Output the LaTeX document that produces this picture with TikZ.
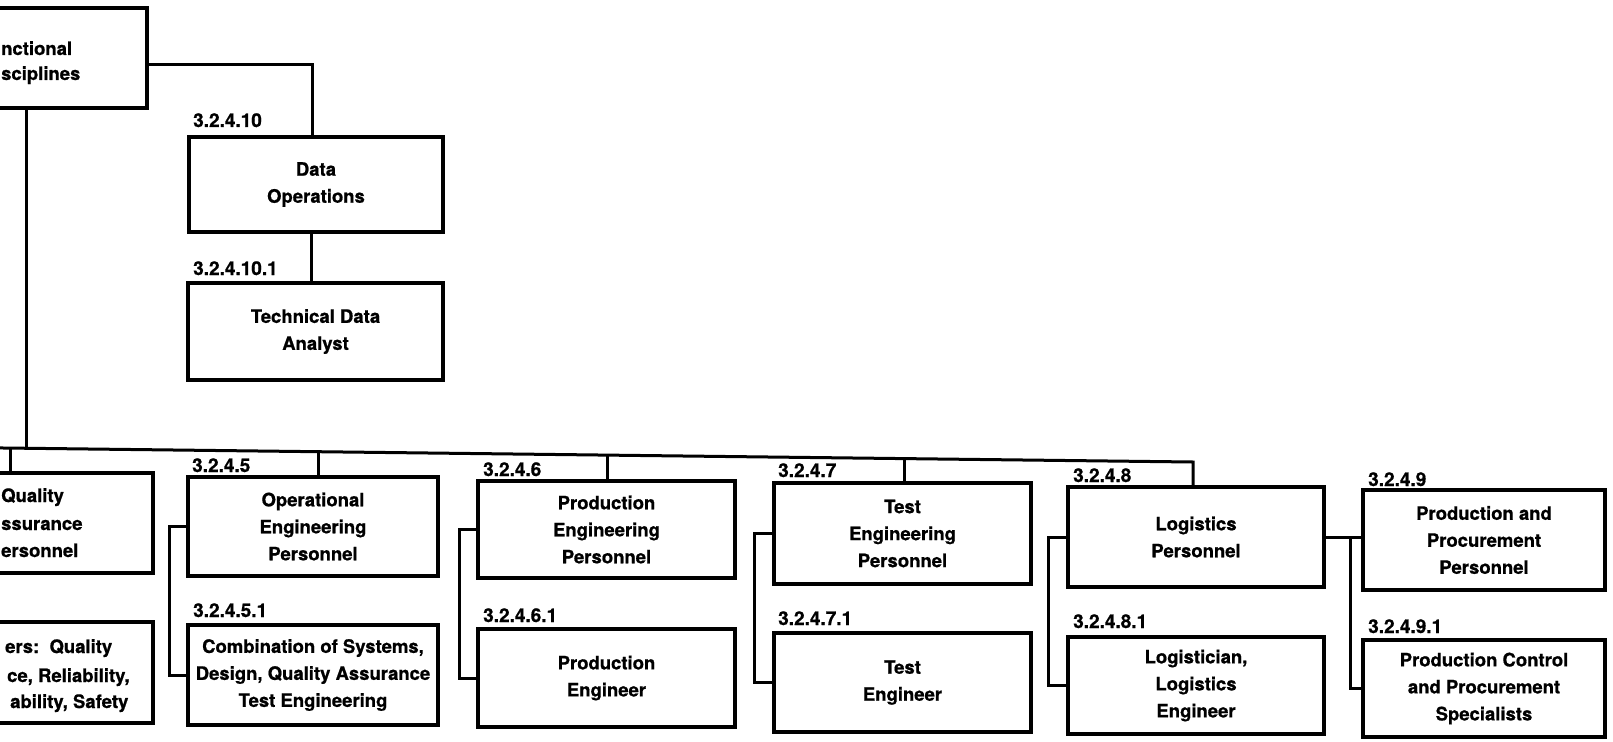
\documentclass[tikz,border=0pt]{standalone}
\usepackage{fontspec}
\setmainfont{TeX Gyre Heros}[BoldFeatures={FakeBold=0.8}]
\usetikzlibrary{calc}
\newcommand\chartfont{\fontsize{18.5}{27}\selectfont\bfseries}
\newcommand\codefont{\fontsize{19}{22}\selectfont\bfseries}
\begin{document}
\begin{tikzpicture}[x=1pt,y=-1pt,
  box/.style={draw, line width=3.6pt, inner sep=0pt, align=center, font=\chartfont},
  conn/.style={line width=3pt},
  code/.style={font=\codefont, inner sep=0pt, anchor=base west},
  frag/.style={font=\chartfont, inner sep=0pt, anchor=base west}]
\useasboundingbox (0,0) rectangle (1613,741);
\fill[white] (0,0) rectangle (1613,741);
\clip (0,0) rectangle (1613,741);

% top box (cut at left edge)
\node[box, minimum width=242pt, minimum height=100pt] (top) at (26,58) {};
\node[frag] (topa) at (1,55) {nctional};
\node[frag] (topb) at (1,80) {sciplines};

% data operations
\node[box, minimum width=254pt, minimum height=95pt] (data) at (316,184.5) {Data\\Operations};
\node[code] (c10) at (193,127) {3.2.4.10};
\node[box, minimum width=255pt, minimum height=97pt] (tech) at (315.5,331.5) {Technical Data\\Analyst};
\node[code] (c101) at (193,275) {3.2.4.10.1};

% quality assurance (cut at left edge)
\node[box, minimum width=248pt, minimum height=100pt] (qa) at (29,523) {};
\node[frag] (qaa) at (1,502) {Quality};
\node[frag] (qab) at (1,530) {ssurance};
\node[frag] (qac) at (1,557) {ersonnel};
\node[box, minimum width=248pt, minimum height=101pt] (qa1) at (29,672.5) {};
\node[frag] (qa1a) at (5,653) {ers:\ \ Quality};
\node[frag] (qa1b) at (7,682) {ce, Reliability,};
\node[frag] (qa1c) at (10,708) {ability, Safety};

% operational engineering
\node[box, minimum width=250pt, minimum height=99pt] (op) at (313,526.5) {Operational\\Engineering\\Personnel};
\node[code] (c5) at (192,472) {3.2.4.5};
\node[box, minimum width=250pt, minimum height=100pt] (op1) at (313,675) {Combination of Systems,\\Design, Quality Assurance\\Test Engineering};
\node[code] (c51) at (193,617) {3.2.4.5.1};

% production engineering
\node[box, minimum width=257pt, minimum height=97pt] (pe) at (606.5,529.5) {Production\\Engineering\\Personnel};
\node[code] (c6) at (483,476) {3.2.4.6};
\node[box, minimum width=257pt, minimum height=98pt] (pe1) at (606.5,678) {Production\\Engineer};
\node[code] (c61) at (483,622) {3.2.4.6.1};

% test engineering
\node[box, minimum width=257pt, minimum height=101pt] (te) at (902.5,533.5) {Test\\Engineering\\Personnel};
\node[code] (c7) at (778,477) {3.2.4.7};
\node[box, minimum width=257pt, minimum height=99pt] (te1) at (902.5,682.5) {Test\\Engineer};
\node[code] (c71) at (778,625) {3.2.4.7.1};

% logistics
\node[box, minimum width=256pt, minimum height=100pt] (lp) at (1196,537) {Logistics\\Personnel};
\node[code] (c8) at (1073,482) {3.2.4.8};
\node[box, minimum width=256pt, minimum height=97pt] (lp1) at (1196,685.5) {Logistician,\\Logistics\\Engineer};
\node[code] (c81) at (1073,628) {3.2.4.8.1};

% production and procurement
\node[box, minimum width=242pt, minimum height=100pt] (pp) at (1484,540) {Production and\\Procurement\\Personnel};
\node[code] (c9) at (1368,486) {3.2.4.9};
\node[box, minimum width=242pt, minimum height=97pt] (pp1) at (1484,688.5) {Production Control\\and Procurement\\Specialists};
\node[code] (c91) at (1368,633) {3.2.4.9.1};

% bus coordinates
\coordinate (bL) at (-5,447.9);
\coordinate (bQA) at (10,448.1);
\coordinate (bTop) at (26,448.3);
\coordinate (bOp) at (318,451.7);
\coordinate (bPe) at (607,455.1);
\coordinate (bTe) at (904,458.6);
\coordinate (bLp) at (1193,462);
\coordinate (jn) at (1350,537);

% connectors
\draw[conn] ([yshift=-7pt]top.east) -| ([xshift=-4pt]data.north);
\draw[conn] ([xshift=-5pt]data.south) -- ([xshift=-5pt]data.south |- tech.north);
\draw[conn] (top.south) -- (bTop);
\draw[conn] (bL) -- (bLp) -- (bLp |- lp.north);
\draw[conn] (bQA) -- (bQA |- qa.north);
\draw[conn] (bOp) -- (bOp |- op.north);
\draw[conn] (bPe) -- (bPe |- pe.north);
\draw[conn] (bTe) -- (bTe |- te.north);

\draw[conn] (op.west) -- ++(-17,0) |- (op1.west);
\draw[conn] (pe.west) -- ++(-17,0) |- (pe1.west);
\draw[conn] (te.west) -- ++(-18,0) |- (te1.west);
\draw[conn] (lp.west) -- ++(-18,0) |- (lp1.west);
\draw[conn] (lp.east) -- (lp.east -| pp.west);
\draw[conn] (lp.east -| jn) |- (pp1.west);
\end{tikzpicture}
\end{document}
